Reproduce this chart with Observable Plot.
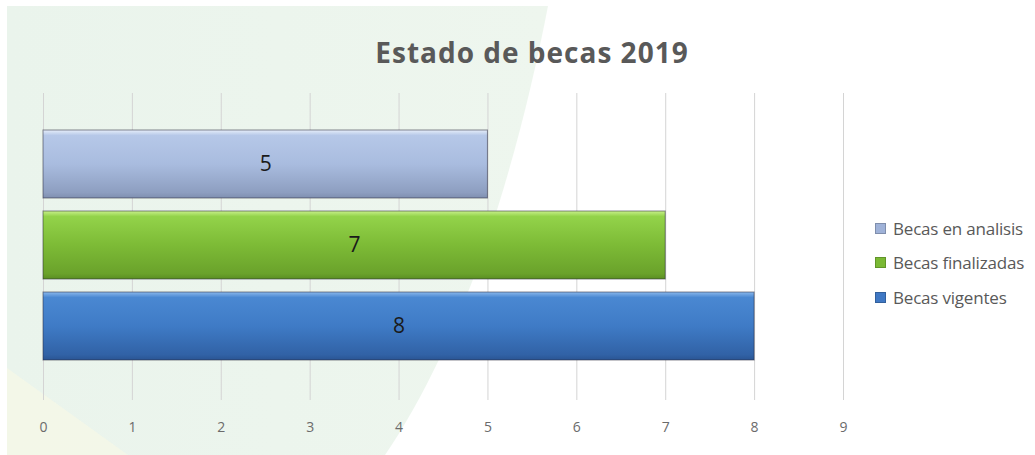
<!DOCTYPE html>
<html><head><meta charset="utf-8">
<script src="https://cdn.jsdelivr.net/npm/d3@7"></script>
<script src="https://cdn.jsdelivr.net/npm/@observablehq/plot@0.6"></script>
<style>
html,body{margin:0;padding:0;background:#fff;}
#wrap{position:relative;width:1035px;height:455px;overflow:hidden;font-family:"Open Sans",sans-serif;}
#bg{position:absolute;left:0;top:0;width:1035px;height:455px;}
#title{position:absolute;left:532px;top:60px;transform:translate(-50%,-80%);white-space:nowrap;font-size:28px;letter-spacing:1px;font-weight:bold;color:#595959;line-height:1;}
#legend{position:absolute;left:875px;top:211px;font-size:17px;color:#595959;letter-spacing:-0.2px;}
#legend div{height:34.5px;display:flex;align-items:center;white-space:nowrap;}
#legend span.sw{display:inline-block;width:11px;height:11px;margin-right:7px;border:1px solid rgba(0,0,0,0.2);box-sizing:border-box;}
#chart{position:absolute;left:0;top:0;}
</style></head>
<body>
<div id="wrap">
<svg id="bg" width="1035" height="455">
  <defs>
    <linearGradient id="bgg" x1="0" y1="0" x2="1" y2="0">
      <stop offset="0" stop-color="#eaf4ec"/>
      <stop offset="1" stop-color="#eef6ee"/>
    </linearGradient>
  </defs>
  <path d="M7,6 L548,6 C520,150 470,330 385,455 L7,455 Z" fill="url(#bgg)"/>
  <path d="M7,368 L7,455 L128,455 Z" fill="#f4f7e8" opacity="0.9"/>
</svg>
<div id="title">Estado de becas 2019</div>
<div id="chart"></div>
<div id="legend"></div>
</div>
<script>
const categories = ["Becas en analisis", "Becas finalizadas", "Becas vigentes"];
const values = [5, 7, 8];
const gradients = ["url(#gA)", "url(#gF)", "url(#gV)"];
const swatchColors = ["#9fb2d8", "#7ab934", "#3f78c4"];
const xTicks = [0, 1, 2, 3, 4, 5, 6, 7, 8, 9];

const data = categories.map((c, i) => ({category: c, value: values[i], grad: gradients[i]}));

const plot = Plot.plot({
  width: 1035,
  height: 455,
  marginLeft: 43,
  marginRight: 192,
  marginTop: 93,
  marginBottom: 55,
  style: {background: "transparent", fontFamily: "Open Sans, sans-serif"},
  x: {domain: [0, 9], axis: null},
  y: {domain: categories, axis: null, insetTop: 31, insetBottom: 33, paddingInner: 0.16, paddingOuter: 0.08},
  color: {type: "identity"},
  marks: [
    Plot.ruleX(xTicks, {stroke: "#d4d4d4", strokeWidth: 1}),
    Plot.axisX(xTicks, {tickSize: 0, tickPadding: 22, fontSize: 14, fill: "#6b6b6b", label: null, tickFormat: d => String(d)}),
    Plot.barX(data, {x: "value", y: "category", fill: "grad", stroke: "rgba(40,40,60,0.55)", strokeWidth: 1}),
    Plot.text(data, {x: d => d.value / 2, y: "category", text: d => String(d.value), fontSize: 21, fill: "#1a1a1a"})
  ]
});

const svg = d3.select(plot);
const defs = svg.insert("defs", ":first-child");
function grad(id, stops) {
  const g = defs.append("linearGradient").attr("id", id).attr("x1", 0).attr("y1", 0).attr("x2", 0).attr("y2", 1);
  stops.forEach(([o, c]) => g.append("stop").attr("offset", o).attr("stop-color", c));
}
grad("gA", [[0, "#e6eefa"], [0.08, "#b6c8e8"], [0.5, "#a9bcdf"], [0.92, "#8d9ec0"], [1, "#7f8fb0"]]);
grad("gF", [[0, "#c8f08a"], [0.08, "#93d34a"], [0.5, "#7dbb36"], [0.92, "#6aa22b"], [1, "#5a8e22"]]);
grad("gV", [[0, "#8ab8ec"], [0.08, "#4a88d2"], [0.5, "#3f7bc6"], [0.92, "#3162a6"], [1, "#2a5594"]]);

document.getElementById("chart").appendChild(plot);

const legend = document.getElementById("legend");
categories.forEach((c, i) => {
  const row = document.createElement("div");
  const sw = document.createElement("span");
  sw.className = "sw";
  sw.style.background = swatchColors[i];
  row.appendChild(sw);
  row.appendChild(document.createTextNode(c));
  legend.appendChild(row);
});
</script>
</body></html>
